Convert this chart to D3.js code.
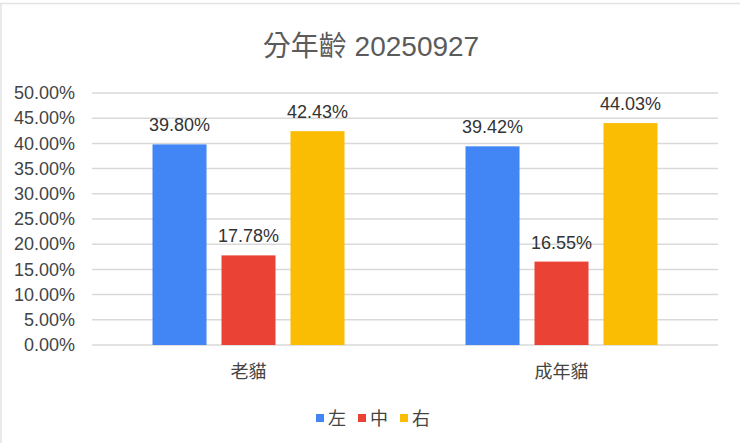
<!DOCTYPE html>
<html>
<head>
<meta charset="utf-8">
<script src="https://cdn.jsdelivr.net/npm/d3@7"></script>
<style>
  body { margin: 0; background: #fff; }
  text { font-family: "Liberation Sans", Arial, "Noto Sans CJK TC", sans-serif; }
</style>
</head>
<body>
<div id="root"></div>
<script>
const title = "分年齡 20250927";
const categories = ["老貓", "成年貓"];
const seriesNames = ["左", "中", "右"];
const seriesColors = ["#4285F4", "#EA4335", "#FBBC04"];
const leftValues = [39.80, 39.42];
const midValues = [17.78, 16.55];
const rightValues = [42.43, 44.03];
const yTicks = [0, 5, 10, 15, 20, 25, 30, 35, 40, 45, 50];

const width = 740;
const height = 443;
const margin = { top: 93, right: 22, bottom: 98, left: 92 };

const series = [leftValues, midValues, rightValues];

const svg = d3.select("#root")
  .append("svg")
  .attr("width", width)
  .attr("height", height);

// faint sheet frame
svg.append("line")
  .attr("x1", 0).attr("x2", width).attr("y1", 3.5).attr("y2", 3.5)
  .attr("stroke", "#e3e3e3").attr("stroke-width", 1.5);
svg.append("line")
  .attr("x1", 1).attr("x2", 1).attr("y1", 3).attr("y2", height)
  .attr("stroke", "#e3e3e3").attr("stroke-width", 1.5);

const y = d3.scaleLinear()
  .domain([0, 50])
  .range([height - margin.bottom, margin.top]);

const x0 = d3.scaleBand()
  .domain(categories)
  .range([margin.left, width - margin.right]);

const x1 = d3.scaleBand()
  .domain(d3.range(seriesNames.length))
  .range([0, x0.bandwidth()])
  .paddingInner(0.217)
  .paddingOuter(0.877);

// title
svg.append("text")
  .attr("x", 371)
  .attr("y", 56)
  .attr("text-anchor", "middle")
  .attr("font-size", 28)
  .attr("fill", "#5b5b5b")
  .text(title);

// gridlines
svg.append("g")
  .selectAll("line")
  .data(yTicks)
  .enter()
  .append("line")
  .attr("x1", margin.left)
  .attr("x2", width - margin.right)
  .attr("y1", d => y(d))
  .attr("y2", d => y(d))
  .attr("stroke", "#d9d9d9")
  .attr("stroke-width", 1.5);

// y axis labels
const yAxis = d3.axisLeft(y)
  .tickValues(yTicks)
  .tickFormat(d => d.toFixed(2) + "%")
  .tickSize(0)
  .tickPadding(0);

const yg = svg.append("g")
  .attr("transform", `translate(${margin.left - 17},0)`)
  .call(yAxis);
yg.select(".domain").remove();
yg.selectAll("text")
  .attr("font-size", 18)
  .attr("fill", "#444")
  .attr("font-family", null);

// bars
const groups = svg.append("g")
  .selectAll("g")
  .data(categories)
  .enter()
  .append("g")
  .attr("transform", d => `translate(${x0(d)},0)`);

groups.selectAll("rect")
  .data((d, ci) => series.map((vals, si) => ({ si, v: vals[ci] })))
  .enter()
  .append("rect")
  .attr("x", d => x1(d.si))
  .attr("y", d => y(d.v))
  .attr("width", x1.bandwidth())
  .attr("height", d => y(0) - y(d.v))
  .attr("fill", d => seriesColors[d.si]);

groups.selectAll("text")
  .data((d, ci) => series.map((vals, si) => ({ si, v: vals[ci] })))
  .enter()
  .append("text")
  .attr("x", d => x1(d.si) + x1.bandwidth() / 2)
  .attr("y", d => y(d.v) - 13)
  .attr("text-anchor", "middle")
  .attr("font-size", 18)
  .attr("fill", "#333")
  .text(d => d.v.toFixed(2) + "%");

// x axis labels
const xAxis = d3.axisBottom(x0).tickSize(0).tickPadding(0);
const xg = svg.append("g")
  .attr("transform", `translate(0,${y(0) + 20})`)
  .call(xAxis);
xg.select(".domain").remove();
xg.selectAll("text")
  .attr("font-size", 18)
  .attr("fill", "#444")
  .attr("font-family", null);

// legend
const legend = svg.append("g")
  .attr("transform", "translate(316,418)");
const item = legend.selectAll("g")
  .data(seriesNames)
  .enter()
  .append("g")
  .attr("transform", (d, i) => `translate(${i * 42},0)`);
item.append("rect")
  .attr("x", 0).attr("y", -4)
  .attr("width", 8).attr("height", 8)
  .attr("fill", (d, i) => seriesColors[i]);
item.append("text")
  .attr("x", 12)
  .attr("y", 0)
  .attr("dy", "0.38em")
  .attr("font-size", 18)
  .attr("fill", "#444")
  .text(d => d);
</script>
</body>
</html>
